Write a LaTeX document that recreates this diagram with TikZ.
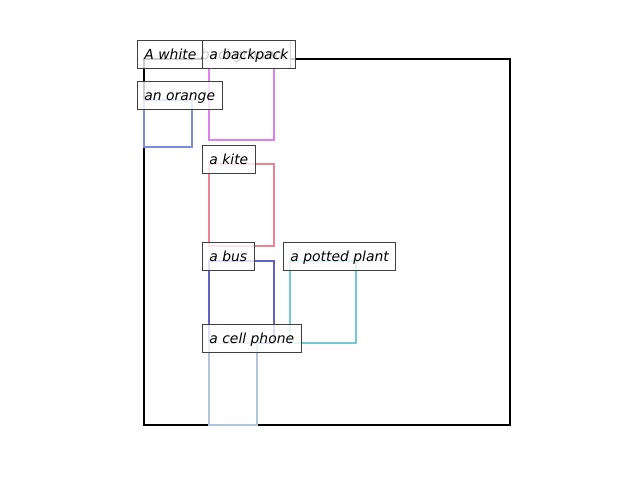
\documentclass[tikz,border=0pt]{standalone}
\usepackage{fontspec}
\setmainfont{DejaVu Sans}[ItalicFont={* Oblique}]
\usepackage{xcolor}
\usepackage{tikz}
\usetikzlibrary{positioning}
\definecolor{backpackcol}{RGB}{222,128,238}
\definecolor{orangecol}{RGB}{122,140,220}
\definecolor{kitecol}{RGB}{240,130,150}
\definecolor{buscol}{RGB}{100,98,192}
\definecolor{plantcol}{RGB}{118,200,208}
\definecolor{phonecol}{RGB}{178,196,222}
\tikzstyle{bbox} = [line width=1.5pt]
\tikzstyle{tag} = [anchor=south west, draw=black!75, line width=0.7pt, fill=white, fill opacity=0.8, text opacity=1, inner xsep=5pt, inner ysep=5pt, text height=8.3pt, text depth=1.7pt, font=\itshape]

\begin{document}
\begin{tikzpicture}[x=0.72pt, y=-0.72pt]
      \useasboundingbox (0,0) rectangle (640,480);

      % Boxes
      \draw[bbox, black] (144,59) rectangle (510,425);
      \draw[bbox, backpackcol] (209,59) rectangle (274,140);
      \draw[bbox, orangecol] (144,100) rectangle (192,147);
      \draw[bbox, kitecol] (209,164) rectangle (274,246);
      \draw[bbox, buscol] (209,261) rectangle (274,343);
      \draw[bbox, plantcol] (290,261) rectangle (356,343);
      \draw[bbox, phonecol] (209,343) rectangle (257,425);

      % Labels
      \node[tag] (background) at (137,69) {A white background};
      \node[tag] (backpack) at (202,69) {a backpack};
      \node[tag] (orange) at (137,110) {an orange};
      \node[tag] (kite) at (202,174) {a kite};
      \node[tag] (bus) at (202,271) {a bus};
      \node[tag] (plant) at (283,271) {a potted plant};
      \node[tag] (phone) at (202,353) {a cell phone};
    \end{tikzpicture}
\end{document}
